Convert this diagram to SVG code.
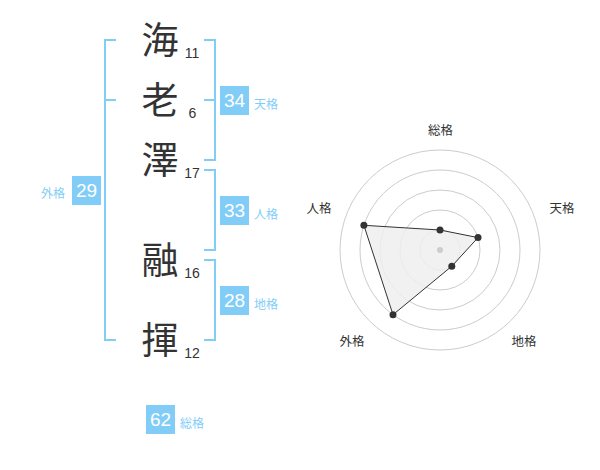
<svg xmlns="http://www.w3.org/2000/svg" width="600" height="470" viewBox="0 0 600 470">
<style>
.ch{font-family:"Noto Sans CJK JP","Noto Sans CJK SC",sans-serif;font-size:37px;fill:#333;text-anchor:middle}
.num{font-family:"Liberation Sans",Arial,sans-serif;font-size:14px;fill:#333;text-anchor:middle}
.br{fill:none;stroke:#82cdf8;stroke-width:2}
.box{fill:#82cdf8}
.bv{font-family:"Liberation Sans",Arial,sans-serif;font-size:19px;fill:#fff;text-anchor:middle}
.bl{font-family:"Noto Sans CJK JP","Noto Sans CJK SC",sans-serif;font-size:12px;fill:#82cdf8}
.ring{fill:none;stroke:#ccc;stroke-width:1}
.rl{font-family:"Noto Sans CJK JP","Noto Sans CJK SC",sans-serif;font-size:12.5px;fill:#333;text-anchor:middle}
.dot{fill:#333}
</style>
<rect width="600" height="470" fill="#fff"/>
<g id="chars">
<g id="c1"><text class="ch" x="160" y="53.5">海</text><text class="num" x="192" y="57.5">11</text></g>
<g id="c2"><text class="ch" x="160" y="114">老</text><text class="num" x="192.5" y="118">6</text></g>
<g id="c3"><text class="ch" x="160" y="174">澤</text><text class="num" x="192" y="178">17</text></g>
<g id="c4"><text class="ch" x="160" y="274">融</text><text class="num" x="192" y="277.5">16</text></g>
<g id="c5"><text class="ch" x="160" y="353.5">揮</text><text class="num" x="192" y="357.5">12</text></g>
</g>
<g id="connectors">
<path class="br" d="M116,40 H105 V340 H116 M105,100 H116"/>
<path class="br" d="M204,40 H215 V160 H204 M215,100 H204"/>
<path class="br" d="M204,170 H215 V250 H204"/>
<path class="br" d="M204,260 H215 V340 H204"/>
</g>
<g id="tenkaku"><rect class="box" x="220" y="86" width="29" height="29"/><text class="bv" x="234.5" y="107.3">34</text><text class="bl" x="254" y="109">天格</text></g>
<g id="jinkaku"><rect class="box" x="220" y="196" width="29" height="29"/><text class="bv" x="234.5" y="217.3">33</text><text class="bl" x="254" y="219">人格</text></g>
<g id="chikaku"><rect class="box" x="220" y="286" width="29" height="29"/><text class="bv" x="234.5" y="307.3">28</text><text class="bl" x="254" y="309">地格</text></g>
<g id="gaikaku"><rect class="box" x="72" y="176" width="29" height="29"/><text class="bv" x="86.5" y="197.3">29</text><text class="bl" x="41" y="198">外格</text></g>
<g id="soukaku"><rect class="box" x="146" y="405" width="29" height="29"/><text class="bv" x="160.5" y="426.3">62</text><text class="bl" x="180" y="428">総格</text></g>
<g id="radar">
<circle class="ring" cx="440" cy="250" r="20"/>
<circle class="ring" cx="440" cy="250" r="40"/>
<circle class="ring" cx="440" cy="250" r="60"/>
<circle class="ring" cx="440" cy="250" r="80"/>
<circle class="ring" cx="440" cy="250" r="100"/>
<polygon points="440,230 478,237.6 451.8,266.2 393,314.7 363.9,225.3" fill="#eee" fill-opacity="0.85" stroke="#333" stroke-width="1"/>
<circle cx="440" cy="250" r="3" fill="#ccc"/>
<circle class="dot" cx="440" cy="230" r="3.5"/>
<circle class="dot" cx="478" cy="237.6" r="3.5"/>
<circle class="dot" cx="451.8" cy="266.2" r="3.5"/>
<circle class="dot" cx="393" cy="314.7" r="3.5"/>
<circle class="dot" cx="363.9" cy="225.3" r="3.5"/>
<text class="rl" x="440.5" y="135">総格</text>
<text class="rl" x="562" y="213">天格</text>
<text class="rl" x="524" y="346">地格</text>
<text class="rl" x="352" y="346">外格</text>
<text class="rl" x="319" y="213">人格</text>
</g>
</svg>
